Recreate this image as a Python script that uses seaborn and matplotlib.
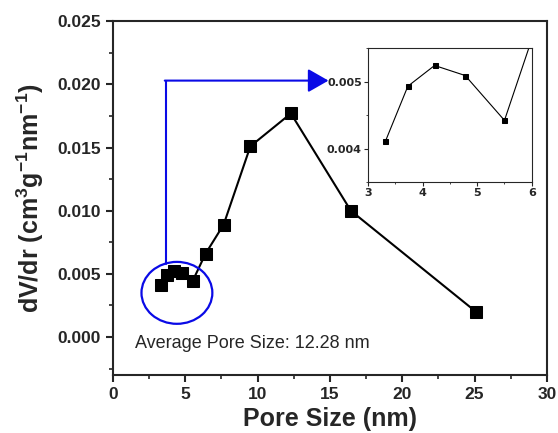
import numpy as np
import pandas as pd
import matplotlib
matplotlib.use("Agg")
import matplotlib.pyplot as plt
from matplotlib.patches import Ellipse
from matplotlib.ticker import MultipleLocator
import seaborn as sns

# Data
pore_size = [3.32, 3.73, 4.22, 4.78, 5.50, 6.40, 7.65, 9.50, 12.30, 16.45, 25.10]
dvdr = [0.00411, 0.00493, 0.00524, 0.00509, 0.00442, 0.0066, 0.0089, 0.0151, 0.0177, 0.0100, 0.0020]
x_ticks = [0, 5, 10, 15, 20, 25, 30]
y_ticks = [0.000, 0.005, 0.010, 0.015, 0.020, 0.025]
inset_x_ticks = [3, 4, 5, 6]
inset_y_ticks = [0.004, 0.005]
avg_label = "Average Pore Size: 12.28 nm"

df = pd.DataFrame({"pore": pore_size, "dvdr": dvdr})

sns.set_style("ticks")
plt.rcParams["font.family"] = ["Liberation Sans", "DejaVu Sans"]
plt.rcParams["mathtext.fontset"] = "custom"
plt.rcParams["mathtext.rm"] = "Liberation Sans"
plt.rcParams["mathtext.bf"] = "Liberation Sans:bold"

fig = plt.figure(figsize=(5.58, 4.33), dpi=100)
ax = fig.add_axes([0.2025, 0.134, 0.7775, 0.817])

sns.lineplot(data=df, x="pore", y="dvdr", ax=ax, color="black", lw=1.5,
             marker="s", markersize=9, markeredgecolor="black", sort=False)

ax.set_xlim(0, 30)
ax.set_ylim(-0.003, 0.025)
ax.set_xticks(x_ticks)
ax.set_yticks(y_ticks)
ax.set_xticklabels([str(t) for t in x_ticks])
ax.set_yticklabels([f"{t:.3f}" for t in y_ticks])
ax.xaxis.set_minor_locator(MultipleLocator(2.5))
ax.yaxis.set_minor_locator(MultipleLocator(0.0025))
ax.tick_params(which="major", direction="out", length=5, width=1.5, labelsize=12.5)
ax.tick_params(which="minor", direction="out", length=3, width=1.2)
for lab in ax.get_xticklabels() + ax.get_yticklabels():
    lab.set_fontweight("bold")
for sp in ax.spines.values():
    sp.set_linewidth(1.5)
    sp.set_visible(True)

ax.set_xlabel("Pore Size (nm)", fontsize=18, fontweight="bold", labelpad=4)
ax.set_ylabel(r"dV/dr (cm$^\mathbf{3}$g$^\mathbf{-1}$nm$^\mathbf{-1}$)",
              fontsize=18, fontweight="bold", labelpad=8)

ax.text(1.5, -0.0005, avg_label, fontsize=13, va="center", ha="left")

# blue circle and arrow
blue = "#0a0ae6"
ax.add_patch(Ellipse((4.42, 0.0035), 4.9, 0.0049, fill=False, edgecolor=blue, lw=1.6, zorder=5))
ax.plot([3.65, 3.65], [0.0058, 0.0203], color=blue, lw=1.5)
ax.annotate("", xy=(14.9, 0.0203), xytext=(3.58, 0.0203),
            arrowprops=dict(arrowstyle="-|>,head_width=0.4,head_length=0.7",
                            mutation_scale=18, color=blue, lw=1.5, shrinkA=0, shrinkB=0))

# inset
ins = fig.add_axes([0.6595, 0.5797, 0.2935, 0.3093])
sns.lineplot(data=df, x="pore", y="dvdr", ax=ins, color="black", lw=0.8,
             marker="s", markersize=3.6, markeredgecolor="black", sort=False)
ins.set_xlim(3, 6)
ins.set_ylim(0.0035, 0.0055)
ins.set_xticks(inset_x_ticks)
ins.set_yticks(inset_y_ticks)
ins.set_xticklabels([str(t) for t in inset_x_ticks], fontfamily="DejaVu Sans", fontweight="bold")
ins.set_yticklabels([f"{t:.3f}" for t in inset_y_ticks], fontfamily="DejaVu Sans", fontweight="bold")
ins.xaxis.set_minor_locator(MultipleLocator(0.5))
ins.yaxis.set_minor_locator(MultipleLocator(0.0005))
ins.tick_params(which="major", direction="out", length=3, width=0.8, labelsize=8, pad=1.5)
ins.tick_params(which="minor", direction="out", length=1.5, width=0.6)
ins.set_xlabel("")
ins.set_ylabel("")
for sp in ins.spines.values():
    sp.set_linewidth(0.8)
    sp.set_visible(True)

fig.savefig("out.png", dpi=100)
